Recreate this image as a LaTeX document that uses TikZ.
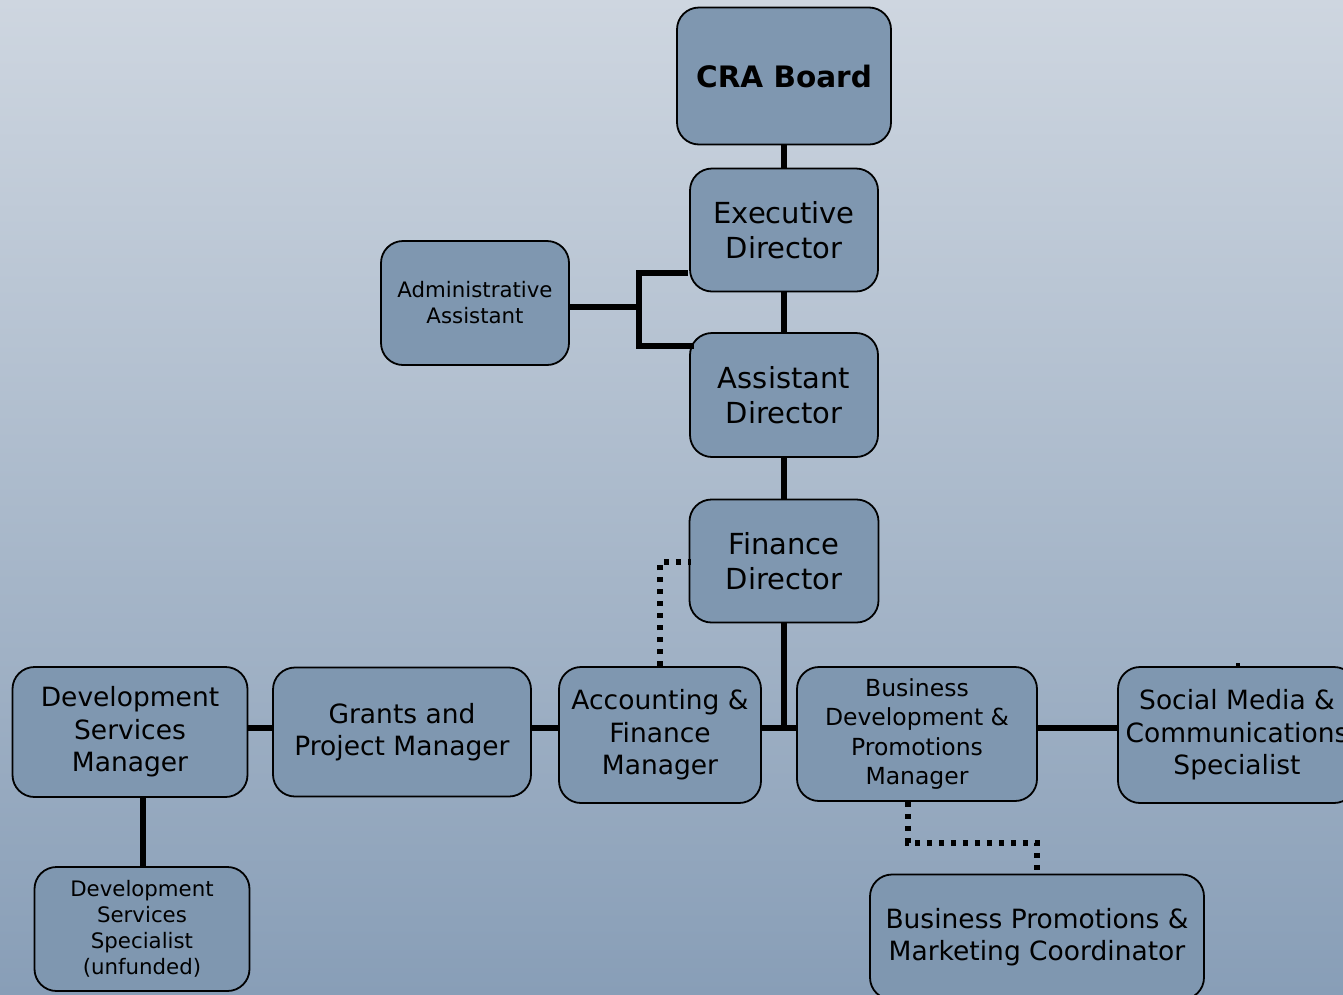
\documentclass[tikz,border=0pt]{standalone}
\usepackage{fontspec}
\setmainfont{DejaVu Sans}
\usetikzlibrary{positioning}

\definecolor{bgtop}{HTML}{CED6E0}
\definecolor{bgbot}{HTML}{889EB7}
\definecolor{boxfill}{HTML}{7F97B0}

\tikzset{
  box/.style={draw, fill=boxfill, rounded corners=22pt, line width=1.8pt,
    align=center, inner sep=0pt},
  link/.style={line width=5.5pt},
  dotlink/.style={line width=5.5pt, dash pattern=on 5.5pt off 6.5pt},
  big/.style={font=\fontsize{29}{34.5}\selectfont},
  mid/.style={font=\fontsize{26.5}{32.5}\selectfont},
  small/.style={font=\fontsize{21.3}{26}\selectfont},
}

\begin{document}
\begin{tikzpicture}[x=1pt, y=-1pt]
  % background
  \shade[top color=bgtop, bottom color=bgbot] (0,0) rectangle (1343,994);
  \useasboundingbox (0,0) rectangle (1343,994);
  \clip (0,0) rectangle (1343,994);

  % top of the chart
  \node [box, minimum width=214pt, minimum height=137pt,
    font=\fontsize{29.5}{34}\selectfont\bfseries] (board) at (784,76) {CRA Board};
  \node [box, big, minimum width=188pt, minimum height=123pt] (exec) at (784,230) {Executive\\Director};
  \node [box, small, minimum width=188pt, minimum height=124pt] (admin) at (475,303) {Administrative\\Assistant};
  \node [box, big, minimum width=188pt, minimum height=124pt] (asst) at (784,395) {Assistant\\Director};
  \node [box, big, minimum width=189pt, minimum height=123pt] (fin) at (784,561) {Finance\\Director};

  % managers row
  \node [box, mid, minimum width=235pt, minimum height=130pt] (devmgr) at (130,732) {Development\\Services\\Manager};
  \node [box, mid, minimum width=258pt, minimum height=129pt] (grants) at (402,732) {Grants and\\Project Manager};
  \node [box, mid, minimum width=202pt, minimum height=136pt] (acct) at (660,735) {Accounting \&\\Finance\\Manager};
  \node [box, font=\fontsize{23.5}{29.5}\selectfont, minimum width=240pt, minimum height=134pt] (busmgr) at (917,734)
    {Business\\Development \&\\Promotions\\Manager};
  \node [box, mid, minimum width=238pt, minimum height=136pt] (social) at (1237,735)
    {Social Media \&\\Communications\\Specialist};

  % bottom row
  \node [box, small, minimum width=215pt, minimum height=124pt] (devspec) at (142,929)
    {Development\\Services\\Specialist\\(unfunded)};
  \node [box, mid, minimum width=334pt, minimum height=125pt] (promo) at (1037,937)
    {Business Promotions \&\\Marketing Coordinator};

  % solid lines
  \draw [link] (board) -- (exec);
  \draw [link] (exec) -- (asst);
  \draw [link] (asst) -- (fin);

  \coordinate (bt) at (639,273);
  \coordinate (bb) at (639,346);
  \draw [link] (admin.east |- 0,307) -- (bt |- 0,307);
  \draw [link] ([xshift=-1pt]exec.west |- bt) -- (bt) -- (bb) -- ([xshift=5pt]asst.west |- bb);

  \coordinate (junc) at (784,728);
  \draw [link] (fin) -- (junc);
  \draw [link] (acct.east |- junc) -- (busmgr.west |- junc);
  \draw [link] (devmgr.east |- junc) -- (grants.west |- junc);
  \draw [link] (grants.east |- junc) -- (acct.west |- junc);
  \draw [link] (busmgr.east |- junc) -- (social.west |- junc);
  \draw [link] (devmgr.south -| 143,0) -- (devspec.north -| 143,0);
  \coordinate (stub) at (1238,663);
  \draw [line width=4pt] (stub) -- (stub |- social.north);

  % dotted lines
  \draw [dotlink] (acct.north) |- ([xshift=2pt]fin.west |- 0,562);
  \coordinate (dl) at (908,843);
  \draw [dotlink] (busmgr.south -| dl) -- (dl) -| (promo.north);
\end{tikzpicture}
\end{document}
